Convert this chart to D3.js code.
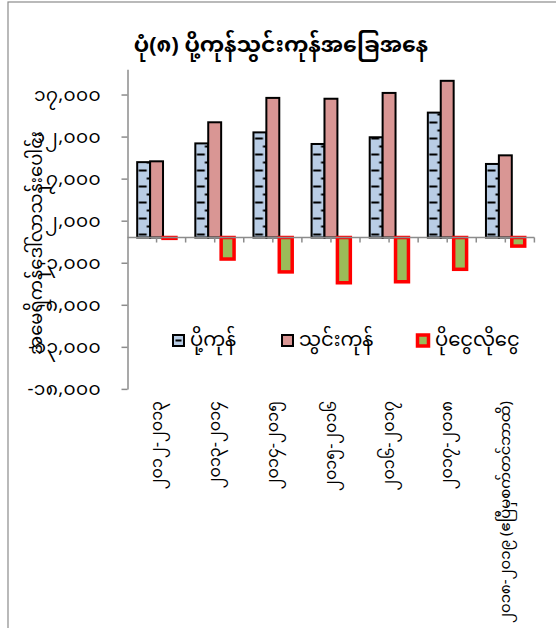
<!DOCTYPE html>
<html>
<head>
<meta charset="utf-8">
<script src="https://cdn.jsdelivr.net/npm/d3@7"></script>
<style>
  html, body { margin: 0; padding: 0; background: #fff; }
  svg { display: block; }
  text { font-family: 'Noto Sans Myanmar', 'Myanmar Text', Padauk, 'Noto Sans', sans-serif; fill: #000; }
</style>
</head>
<body>
<svg id="chart" width="556" height="628"></svg>
<script>
const categories = [
  "၂၀၁၂-၂၀၁၃",
  "၂၀၁၃-၂၀၁၄",
  "၂၀၁၄-၂၀၁၅",
  "၂၀၁၅-၂၀၁၆",
  "၂၀၁၆-၂၀၁၇",
  "၂၀၁၇-၂၀၁၈",
  "၂၀၁၈-၂၀၁၉ (ဧပြီမှစက်တင်ဘာထိ)"
];
const exportsVals = [8960, 11190, 12500, 11120, 11920, 14850, 8745];
const importsVals = [9060, 13700, 16600, 16500, 17190, 18630, 9770];
const balanceVals = [-100, -2560, -4090, -5380, -5260, -3780, -1020];
const seriesNames = ["ပို့ကုန်", "သွင်းကုန်", "ပိုငွေလိုငွေ"];
const yTickValues = [-18000, -13000, -8000, -3000, 2000, 7000, 12000, 17000];
const yTickLabels = ["-၁၈,၀၀၀", "-၁၃,၀၀၀", "-၈,၀၀၀", "-၃,၀၀၀", "၂,၀၀၀", "၇,၀၀၀", "၁၂,၀၀၀", "၁၇,၀၀၀"];
const titleText = "ပုံ(၈) ပို့ကုန်သွင်းကုန်အခြေအနေ";
const yTitle = "အမေရိကန်ဒေါ်လာသန်းပေါင်း";

const svg = d3.select("#chart");
const plotLeft = 127.5, plotRight = 534.4;
const yMin = -18000, yMax = 20000;

// frame
svg.append("rect").attr("x", 8).attr("y", 2).attr("width", 600).attr("height", 700)
  .attr("fill", "none").attr("stroke", "#8c8c8c").attr("stroke-width", 1.2);

const x = d3.scaleBand().domain(categories).range([plotLeft, plotRight]).padding(0);
const step = x.step();
const bw = step / 4.5;
const x1 = d3.scaleBand().domain([0, 1, 2]).range([bw * 0.75, step - bw * 0.75]).padding(0);
const y = d3.scaleLinear().domain([yMin, yMax]).range([388.9, 69.3]);

const rows = categories.map((c, i) => ({ c, i, vals: [exportsVals[i], importsVals[i], balanceVals[i]] }));

// patterns for exports bars (aligned per bar)
const defs = svg.append("defs");
rows.forEach(r => {
  const px = x(r.c) + x1(0);
  const p = defs.append("pattern").attr("id", "pat" + r.i)
    .attr("patternUnits", "userSpaceOnUse")
    .attr("x", px).attr("y", y(0) - 4)
    .attr("width", bw).attr("height", 16);
  p.append("rect").attr("width", bw).attr("height", 16).attr("fill", "#b9cde5");
  p.append("rect").attr("x", 1.5).attr("y", 0).attr("width", 8).attr("height", 2).attr("fill", "#000");
  p.append("rect").attr("x", 9.5).attr("y", 8).attr("width", 8).attr("height", 2).attr("fill", "#000");
});

// y axis
const yAxis = d3.axisLeft(y).tickValues(yTickValues)
  .tickFormat((d, i) => yTickLabels[i]).tickSize(6).tickPadding(20.5).tickSizeOuter(0);
const gy = svg.append("g").attr("transform", `translate(${plotLeft},0)`).call(yAxis);
gy.select(".domain").attr("stroke", "#8c8c8c").attr("stroke-width", 1.5);
gy.selectAll(".tick line").attr("stroke", "#8c8c8c").attr("stroke-width", 1.5);
gy.selectAll(".tick text").style("font-size", "18.5px").style("letter-spacing", "0.4px").attr("fill", "#000");

// y title
svg.append("text")
  .attr("transform", `translate(37,243) rotate(-90)`)
  .attr("text-anchor", "middle").attr("dominant-baseline", "middle")
  .style("font-size", "18px").text(yTitle);

// bars
const colors = [null, "#d99694", "#9bbb59"];
const g = svg.append("g");
rows.forEach(r => {
  r.vals.forEach((v, k) => {
    const rx = x(r.c) + x1(k);
    const y0 = y(Math.max(0, v)), y1v = y(Math.min(0, v));
    g.append("rect")
      .attr("x", rx).attr("y", y0).attr("width", x1.bandwidth()).attr("height", Math.max(0.5, y1v - y0))
      .attr("fill", k === 0 ? `url(#pat${r.i})` : colors[k])
      .attr("stroke", k === 2 ? "#ff0000" : "#000")
      .attr("stroke-width", k === 2 ? 3.5 : 2);
  });
});

// x axis line and ticks
const gx = svg.append("g");
gx.append("line").attr("x1", plotLeft).attr("x2", plotRight).attr("y1", y(0)).attr("y2", y(0))
  .attr("stroke", "#8c8c8c").attr("stroke-width", 1.5);
categories.forEach(c => {
  [x(c) + step, x(c) + step / 2].forEach(tx => {
    gx.append("line").attr("x1", tx).attr("x2", tx).attr("y1", y(0)).attr("y2", y(0) + 5)
      .attr("stroke", "#8c8c8c").attr("stroke-width", 1.5);
  });
});
// x labels
const xl = svg.append("g").selectAll("text").data(categories).join("text")
  .attr("transform", d => `translate(${x(d) + step / 2 + 1},401) rotate(-90)`)
  .attr("text-anchor", "end").attr("dominant-baseline", "middle")
  .style("font-size", "16px").text(d => d);
xl.each(function () {
  const len = this.getComputedTextLength();
  const maxLen = 222;
  if (len > maxLen) d3.select(this).style("font-size", (16 * maxLen / len).toFixed(2) + "px");
});

// title
svg.append("text").attr("x", 281).attr("y", 46)
  .attr("text-anchor", "middle").attr("dominant-baseline", "middle")
  .style("font-size", "22px").style("font-weight", "bold").text(titleText);

// legend
const legendItems = [
  { name: seriesNames[0], sx: 173, tx: 190, fill: "#b9cde5", stroke: "#000", sw: 2, dash: true },
  { name: seriesNames[1], sx: 282, tx: 299, fill: "#d99694", stroke: "#000", sw: 2 },
  { name: seriesNames[2], sx: 417.5, tx: 435, fill: "#9bbb59", stroke: "#ff0000", sw: 3.5 }
];
const lg = svg.append("g");
legendItems.forEach(it => {
  lg.append("rect").attr("x", it.sx).attr("y", 335).attr("width", 11).attr("height", 11)
    .attr("fill", it.fill).attr("stroke", it.stroke).attr("stroke-width", it.sw);
  if (it.dash) lg.append("rect").attr("x", it.sx + 2.5).attr("y", 339.5).attr("width", 6).attr("height", 2).attr("fill", "#000");
  lg.append("text").attr("x", it.tx).attr("y", 341).attr("dominant-baseline", "middle")
    .style("font-size", "19.5px").text(it.name);
});
</script>
</body>
</html>
